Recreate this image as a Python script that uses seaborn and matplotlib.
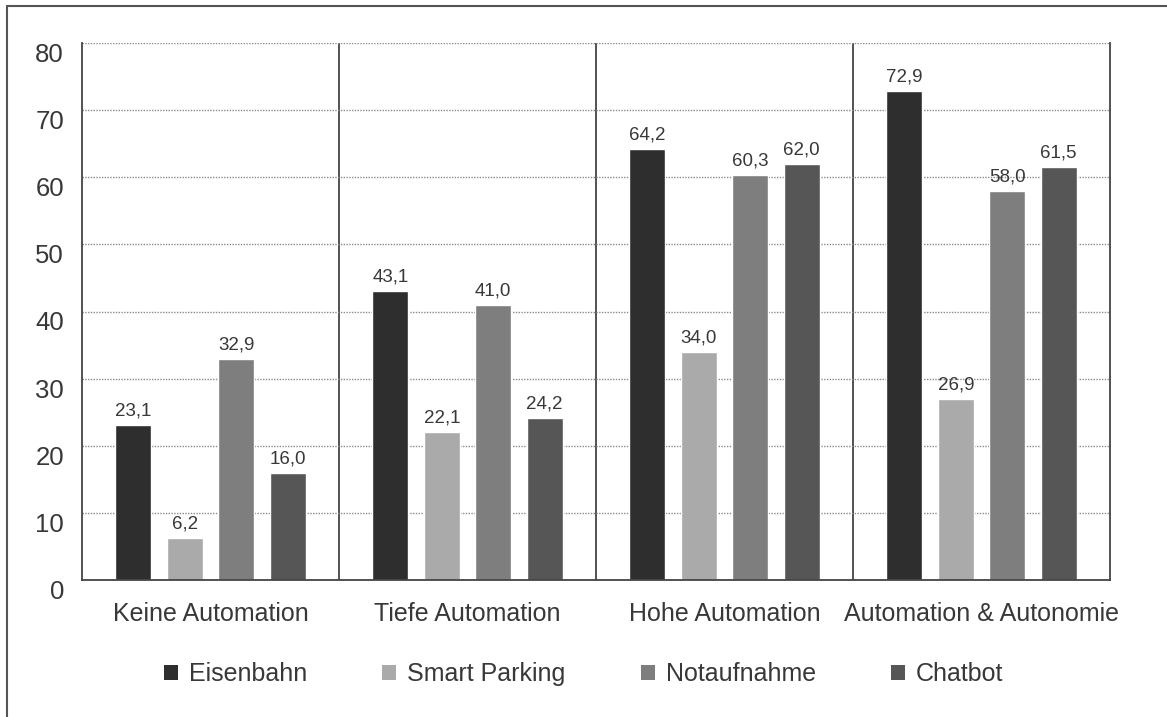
import matplotlib
matplotlib.use("Agg")
import matplotlib.pyplot as plt
import matplotlib.lines as mlines
from matplotlib.patches import Patch
import seaborn as sns
import pandas as pd

# --- data ---
categories = ["Keine Automation", "Tiefe Automation", "Hohe Automation", "Automation & Autonomie"]
series = ["Eisenbahn", "Smart Parking", "Notaufnahme", "Chatbot"]
eisenbahn = [23.1, 43.1, 64.2, 72.9]
smart_parking = [6.2, 22.1, 34.0, 26.9]
notaufnahme = [32.9, 41.0, 60.3, 58.0]
chatbot = [16.0, 24.2, 62.0, 61.5]
y_ticks = [0, 10, 20, 30, 40, 50, 60, 70, 80]

colors = ["#2e2e2e", "#aaaaaa", "#7e7e7e", "#565656"]
text_col = "#383838"

df = pd.DataFrame({
    "Kategorie": categories * 4,
    "Serie": [s for s in series for _ in categories],
    "Wert": eisenbahn + smart_parking + notaufnahme + chatbot,
})

sns.set_style("white")
plt.rcParams["font.family"] = ["Liberation Sans", "DejaVu Sans"]

fig = plt.figure(figsize=(11.67, 7.17), dpi=100)
ax = fig.add_axes([82 / 1167, 1 - 580 / 717, (1110 - 82) / 1167, (580 - 43) / 717])

sns.barplot(data=df, x="Kategorie", y="Wert", hue="Serie", order=categories,
            hue_order=series, palette=colors, width=0.8, gap=0.3,
            saturation=1, ax=ax, legend=False)

for cont in ax.containers:
    ax.bar_label(cont, fmt=lambda v: f"{v:.1f}".replace(".", ","),
                 padding=4, fontsize=13.5, color=text_col)

ax.set_ylim(0, 80)
ax.set_xlim(-0.5, 3.5)
ax.set_yticks(y_ticks)
ax.set_xlabel("")
ax.set_ylabel("")

# grid and group separators
ax.yaxis.grid(True, linestyle=(0, (1, 1)), color="#8a8a8a", linewidth=1.0)
ax.set_axisbelow(True)
for xs in [0.5, 1.5, 2.5]:
    ax.axvline(xs, color="#444444", linewidth=1.3, zorder=0.5)

for side in ["left", "right", "bottom"]:
    ax.spines[side].set_visible(True)
    ax.spines[side].set_color("#444444")
    ax.spines[side].set_linewidth(1.3)
ax.spines["top"].set_visible(False)

ax.tick_params(axis="y", length=0, pad=13, labelsize=18.5, labelcolor=text_col)
ax.tick_params(axis="x", length=0, pad=16, labelsize=18, labelcolor=text_col)
for lab in ax.get_yticklabels():
    lab.set_verticalalignment("top")

handles = [Patch(facecolor=c, edgecolor="none", label=s) for c, s in zip(colors, series)]
fig.legend(handles=handles, loc="center", bbox_to_anchor=(0.5, 1 - 674 / 717),
           ncol=4, frameon=False, fontsize=18, handlelength=0.56, handleheight=0.56,
           handletextpad=0.45, columnspacing=3.0, labelcolor=text_col)

# outer frame (left and top edges visible)
fig.add_artist(mlines.Line2D([7 / 1167, 7 / 1167], [0, 1 - 6 / 717],
                             transform=fig.transFigure, color="#555555", linewidth=1.5))
fig.add_artist(mlines.Line2D([7 / 1167, 1], [1 - 6 / 717, 1 - 6 / 717],
                             transform=fig.transFigure, color="#555555", linewidth=1.5))

fig.savefig("out.png", dpi=100, facecolor="white")
